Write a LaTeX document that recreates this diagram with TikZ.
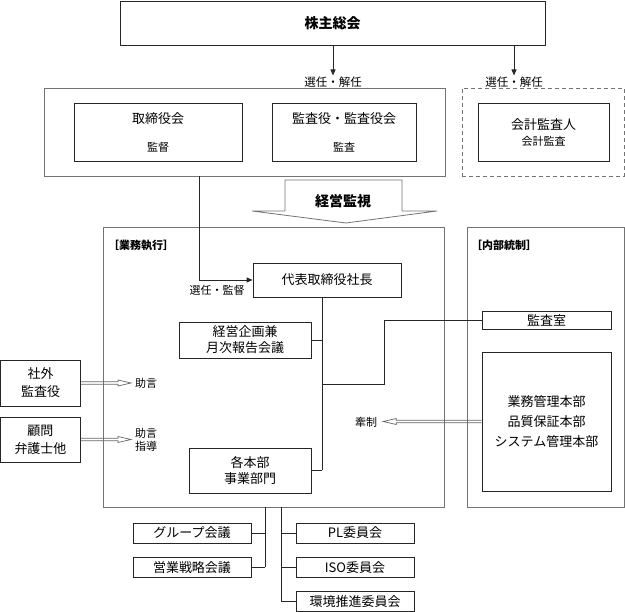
\documentclass[tikz,border=0pt]{standalone}
\usepackage{fontspec}
\setmainfont{Noto Sans CJK JP}
\usetikzlibrary{calc,arrows.meta}
\newcommand\mainfont{\fontsize{13}{16}\selectfont}
\newcommand\subfont{\fontsize{11}{13}\selectfont}
\newcommand\headfont{\bfseries\fontsize{14}{16}\selectfont}
\tikzset{
  box/.style={draw=black!85, line width=0.8pt, inner sep=1pt, align=center, font=\mainfont},
  frame/.style={draw=black!55, line width=0.8pt, inner sep=0pt},
  note/.style={inner sep=1pt, align=center, font=\fontsize{11}{12.5}\selectfont},
  tag/.style={inner sep=1pt, font=\bfseries\fontsize{11}{13}\selectfont},
  conn/.style={draw=black!85, line width=0.8pt},
  arr/.style={conn, -{Triangle[length=6pt,width=5pt]}},
  harrow/.style={draw=black!60, line width=0.7pt, line join=miter}
}
% hollow (white) arrow, horizontal, from #1 to #2
\newcommand\hollowarrow[2]{%
  \draw[harrow] let \p1=(#1), \p2=(#2), \n1={sign(\x2-\x1)} in
    (\x1,{\y1+1.3pt}) -- ({\x2-(\n1)*13pt},{\y1+1.3pt}) -- ({\x2-(\n1)*13pt},{\y1+3pt})
    -- (\x2,\y1) -- ({\x2-(\n1)*13pt},{\y1-3pt}) -- ({\x2-(\n1)*13pt},{\y1-1.3pt}) -- (\x1,{\y1-1.3pt});}
\begin{document}
\begin{tikzpicture}[x=1pt,y=-1pt]
\useasboundingbox (0,0) rectangle (625,612);
% shareholders
\node[box, minimum width=425pt, minimum height=44pt, font=\headfont] (kabunushi) at (332.5,23) {株主総会};
\node[note, font=\fontsize{11.5}{13}\selectfont] (sennin1) at (333,82) {選任・解任};
\node[note, font=\fontsize{11.5}{13}\selectfont] (sennin2) at (514,82) {選任・解任};
\draw[arr] (sennin1 |- kabunushi.south) -- (sennin1.north);
\draw[arr] (sennin2 |- kabunushi.south) -- (sennin2.north);
% board and auditors
\node[frame, minimum width=401pt, minimum height=88pt] (yakuin) at (244.5,132) {};
\node[box, minimum width=168pt, minimum height=58pt] (torikai) at (158,132) {取締役会\\[12pt]{\subfont 監督}};
\node[box, minimum width=144pt, minimum height=58pt] (kansayaku) at (344,132) {監査役・監査役会\\[12pt]{\subfont 監査}};
\node[frame, dashed, dash pattern=on 4pt off 3pt, minimum width=162pt, minimum height=88pt] (kaikeiwaku) at (543,132) {};
\node[box, minimum width=131pt, minimum height=58pt] (kaikei) at (543.5,132) {会計監査人\\{\subfont 会計監査}};
% supervision arrow
\node[font=\headfont] (kanshi) at (343,201) {経営監視};
\draw[frame] (285,180) -- (285,211) -- (252,211) -- (346,223) -- (437,211) -- (402,211) -- (402,180) -- cycle;
% execution
\node[frame, minimum width=341pt, minimum height=280pt] (gyomu) at (273.5,367) {};
\node[tag, anchor=west] (gyomutag) at (107,245) {［業務執行］};
\node[frame, minimum width=157pt, minimum height=280pt] (naibu) at (545.5,367) {};
\node[tag, anchor=west] (naibutag) at (470,245) {［内部統制］};
\node[box, minimum width=148pt, minimum height=34pt] (shacho) at (327,280) {代表取締役社長};
\draw[arr] (yakuin.south west) ++(156,0) |- (shacho.west);
\node[note] (sennin3) at (217,290) {選任・監督};
\node[box, minimum width=132pt, minimum height=36pt] (keikaku) at (245,340) {経営企画兼\\月次報告会議};
\node[box, minimum width=122pt, minimum height=45pt] (kakubu) at (250,470.5) {各本部\\事業部門};
\coordinate (trunk) at (322,0);
\draw[conn] (trunk |- shacho.south) -- (trunk |- kakubu.east);
\draw[conn] (keikaku.east) -- (keikaku.east -| trunk);
\draw[conn] (kakubu.east) -- (kakubu.east -| trunk);
% internal control
\node[box, minimum width=129pt, minimum height=18pt] (kansashitsu) at (546.5,320) {監査室};
\coordinate (junc) at (384,384);
\draw[conn] (kansashitsu.west) -| (junc) -- (junc -| trunk);
\node[box, minimum width=129pt, minimum height=139pt] (honbu) at (546.5,421.5) {業務管理本部\\[4pt]品質保証本部\\[4pt]システム管理本部};
\node[note, inner xsep=6pt] (kensei) at (366,422) {牽制};
\hollowarrow{honbu.west}{kensei.east}
% advisors
\node[box, minimum width=80pt, minimum height=46pt] (gaibu) at (40.5,383) {社外\\[2pt]監査役};
\node[box, minimum width=80pt, minimum height=45pt] (komon) at (40.5,439.5) {顧問\\[2pt]弁護士他};
\node[note, anchor=west, inner xsep=4pt] (jogen) at (131,383) {助言};
\node[note, anchor=west, inner xsep=4pt] (shido) at (131,440) {助言\\[1pt]指導};
\hollowarrow{gaibu.east}{jogen.west}
\hollowarrow{komon.east}{shido.west}
% meetings and committees
\coordinate (ltrunk) at (265,507);
\coordinate (rtrunk) at (281,507);
\foreach \nm/\y/\txt in {group/533/グループ会議, eigyo/567.5/営業戦略会議}{
  \node[box, minimum width=118pt, minimum height=20pt] (\nm) at (192,\y) {\txt};
  \draw[conn] (\nm.east) -- (\nm.east -| ltrunk);
}
\foreach \nm/\y/\txt in {pl/533/PL委員会, iso/567.5/ISO委員会, kankyo/601.5/環境推進委員会}{
  \node[box, minimum width=118pt, minimum height=20pt] (\nm) at (355,\y) {\txt};
  \draw[conn] (\nm.west) -- (\nm.west -| rtrunk);
}
\draw[conn] (ltrunk) -- (ltrunk |- eigyo.east);
\draw[conn] (rtrunk) -- (rtrunk |- kankyo.west);
\end{tikzpicture}
\end{document}
